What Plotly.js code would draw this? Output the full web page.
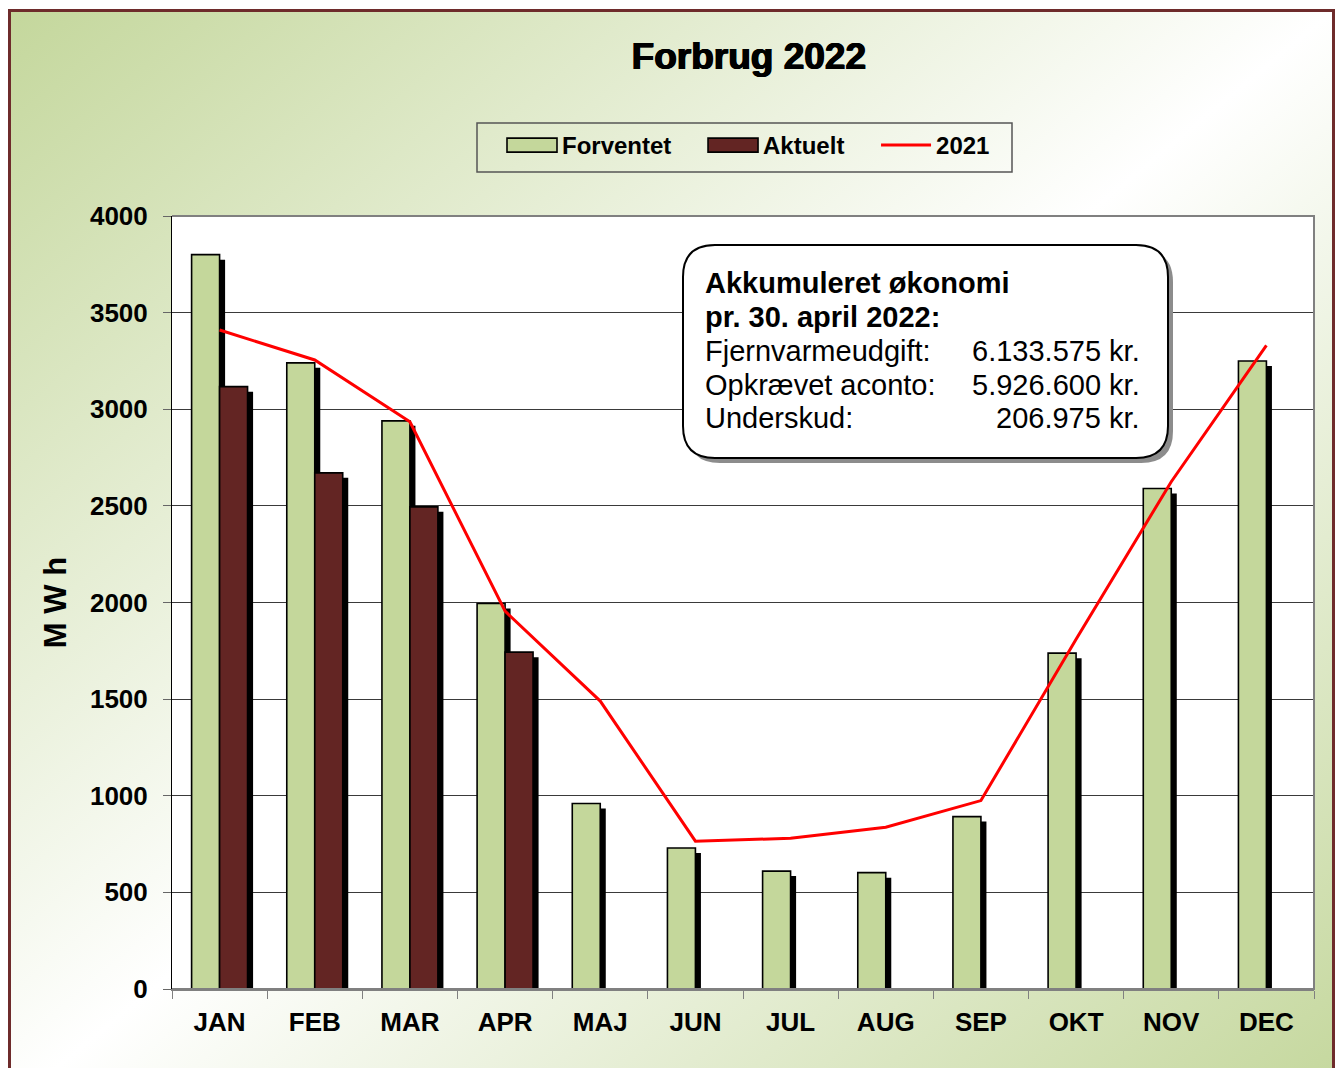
<!DOCTYPE html>
<html>
<head>
<meta charset="utf-8">
<script src="https://cdn.plot.ly/plotly-3.0.1.min.js"></script>
<style>
  html, body { margin: 0; padding: 0; width: 1336px; height: 1068px; overflow: hidden; background: #ffffff; }
  #frame {
    position: absolute; left: 8px; top: 9px; width: 1327px; height: 1100px;
    box-sizing: border-box; border: 3px solid #6e2b2b;
    background: linear-gradient(to bottom right, #c4d79c 0%, #ffffff 50%, #c4d79c 100%);
  }
  #chart { position: absolute; left: 0; top: 0; width: 1336px; height: 1068px; }
</style>
</head>
<body>
<div id="frame"></div>
<div id="chart"></div>
<script>
// ---- data ----
const months = ['JAN','FEB','MAR','APR','MAJ','JUN','JUL','AUG','SEP','OKT','NOV','DEC'];
const forventet = [3800, 3240, 2940, 1995, 960, 730, 610, 602, 892, 1738, 2590, 3250];
const aktuelt = [3117, 2671, 2495, 1743, null, null, null, null, null, null, null, null];
const forbrug2021 = [3410, 3255, 2935, 1955, 1490, 765, 780, 837, 975, 1810, 2625, 3330];
const yTicks = [0, 500, 1000, 1500, 2000, 2500, 3000, 3500, 4000];
const seriesNames = ['Forventet', 'Aktuelt', '2021'];

const infoLabels = ['Akkumuleret økonomi', 'pr. 30. april 2022:', 'Fjernvarmeudgift:', 'Opkrævet aconto:', 'Underskud:'];
const infoValues = ['6.133.575 kr.', '5.926.600 kr.', '206.975 kr.'];

// ---- styling / geometry ----
const FONT = 'Liberation Sans, Arial, sans-serif';
const W = 1336, H = 1068;
const M = {l: 172, r: 22, t: 216, b: 79};
const plotW = W - M.l - M.r, plotH = H - M.t - M.b;
const barW = 0.294;         // category units
const shX = 0.058;          // shadow shift (category units)
const shYpx = 5;            // shadow drop in px
const yMax = 4000;
const shY = shYpx / plotH * yMax;
const pad = '\u00a0\u00a0\u00a0\u00a0';  // spacing between legend entries

const shadowOf = arr => arr.map(v => v == null ? null : Math.max(0, v - shY));

const traces = [
  { type: 'bar', x: months, y: shadowOf(forventet), width: barW, offset: -barW + shX,
    marker: {color: '#000000', line: {width: 0}}, showlegend: false, hoverinfo: 'skip' },
  { type: 'bar', name: seriesNames[0] + pad, x: months, y: forventet, width: barW, offset: -barW,
    marker: {color: '#c4d79b', line: {color: '#000000', width: 1.6}} },
  { type: 'bar', x: months, y: shadowOf(aktuelt), width: barW, offset: shX,
    marker: {color: '#000000', line: {width: 0}}, showlegend: false, hoverinfo: 'skip' },
  { type: 'bar', name: seriesNames[1] + pad, x: months, y: aktuelt, width: barW, offset: 0,
    marker: {color: '#632523', line: {color: '#000000', width: 1.6}} },
  { type: 'scatter', mode: 'lines', name: seriesNames[2], x: months, y: forbrug2021,
    line: {color: '#ff0000', width: 3} }
];

// paper coords from pixels
const px = x => (x - M.l) / plotW;
const py = y => (H - M.b - y) / plotH;

function roundRect(x0, y0, x1, y1, r) {
  const X0 = px(x0), X1 = px(x1), Yt = py(y0), Yb = py(y1);
  const rx = r / plotW, ry = r / plotH;
  return `M${X0 + rx},${Yt} L${X1 - rx},${Yt} Q${X1},${Yt} ${X1},${Yt - ry} ` +
         `L${X1},${Yb + ry} Q${X1},${Yb} ${X1 - rx},${Yb} L${X0 + rx},${Yb} ` +
         `Q${X0},${Yb} ${X0},${Yb + ry} L${X0},${Yt - ry} Q${X0},${Yt} ${X0 + rx},${Yt} Z`;
}

const box = {x0: 683, y0: 245, x1: 1168, y1: 458, r: 32};
const shapes = [
  // plot frame (bottom, right, top) in grey
  { type: 'path', xref: 'paper', yref: 'paper', path: 'M0,0 L1,0 L1,1 L0,1',
    line: {color: '#808080', width: 2}, layer: 'above' },
  // legend frame
  { type: 'rect', xref: 'paper', yref: 'paper', x0: px(477), x1: px(1012), y0: py(172), y1: py(123),
    line: {color: '#555555', width: 1.5}, fillcolor: 'rgba(0,0,0,0)', layer: 'above' },
  // info box shadow
  { type: 'path', xref: 'paper', yref: 'paper',
    path: roundRect(box.x0 + 5, box.y0 + 5, box.x1 + 5, box.y1 + 5, box.r),
    fillcolor: '#8c8c8c', line: {width: 0}, layer: 'above' },
  // info box
  { type: 'path', xref: 'paper', yref: 'paper',
    path: roundRect(box.x0, box.y0, box.x1, box.y1, box.r),
    fillcolor: '#ffffff', line: {color: '#000000', width: 2}, layer: 'above' }
];

const lineY = [283, 317, 351, 385, 418];
const annotations = [];
infoLabels.forEach((t, i) => {
  annotations.push({ xref: 'paper', yref: 'paper', x: px(703), y: py(lineY[i]),
    xanchor: 'left', yanchor: 'middle', showarrow: false, text: t, align: 'left',
    font: {family: FONT, size: 29, color: '#000', weight: i < 2 ? 'bold' : 'normal'} });
});
infoValues.forEach((t, i) => {
  annotations.push({ xref: 'paper', yref: 'paper', x: px(1142), y: py(lineY[i + 2]),
    xanchor: 'right', yanchor: 'middle', showarrow: false, text: t, align: 'right',
    font: {family: FONT, size: 29, color: '#000'} });
});

const layout = {
  width: W, height: H,
  margin: M,
  paper_bgcolor: 'rgba(0,0,0,0)',
  plot_bgcolor: '#ffffff',
  barmode: 'overlay',
  font: {family: FONT, color: '#000'},
  title: { text: 'Forbrug 2022', x: 0.5605, xanchor: 'center', y: 1 - 56 / H, yanchor: 'middle',
    font: {family: FONT, size: 37, weight: 'bold', color: '#000',
           shadow: '0.7px 0 0 #000, -0.7px 0 0 #000, 0 0.5px 0 #000'} },
  showlegend: true,
  legend: {
    orientation: 'h', x: px(502), xanchor: 'left', y: py(123), yanchor: 'top',
    bgcolor: 'rgba(0,0,0,0)', borderwidth: 0,
    font: {family: FONT, size: 24, weight: 'bold', color: '#000'},
    itemwidth: 50, traceorder: 'normal', tracegroupgap: 0
  },
  xaxis: {
    type: 'category', range: [-0.5, 11.5], fixedrange: true,
    showline: true, linecolor: '#808080', linewidth: 2,
    ticks: 'outside', tickson: 'boundaries', ticklen: 8, tickcolor: '#808080', tickwidth: 1,
    tickfont: {family: FONT, size: 26, weight: 'bold', color: '#000'},
    ticklabelstandoff: 9,
    showgrid: false
  },
  yaxis: {
    range: [0, yMax], tickvals: yTicks, fixedrange: true,
    showline: true, linecolor: '#000000', linewidth: 1,
    ticks: 'outside', ticklen: 8, tickcolor: '#666666',
    tickfont: {family: FONT, size: 26, weight: 'bold', color: '#000'},
    ticklabelstandoff: 10,
    showgrid: true, gridcolor: '#3a3a3a', gridwidth: 1, zeroline: false,
    title: { text: 'M W h', standoff: 14, font: {family: FONT, size: 31, weight: 'bold', color: '#000'} }
  },
  shapes: shapes,
  annotations: annotations,
  hovermode: false
};

Plotly.newPlot('chart', traces, layout, {displayModeBar: false, staticPlot: true}).then(() => {
  // widen bar legend swatches to match the reference (wide flat rectangles)
  document.querySelectorAll('.legend .legendpoints path').forEach(p => {
    const d = p.getAttribute('d') || '';
    if (d.indexOf('M6,6H-6V-6H6Z') === 0) {
      p.setAttribute('d', 'M25,7H-25V-7H25Z');
    }
  });
});
</script>
</body>
</html>
